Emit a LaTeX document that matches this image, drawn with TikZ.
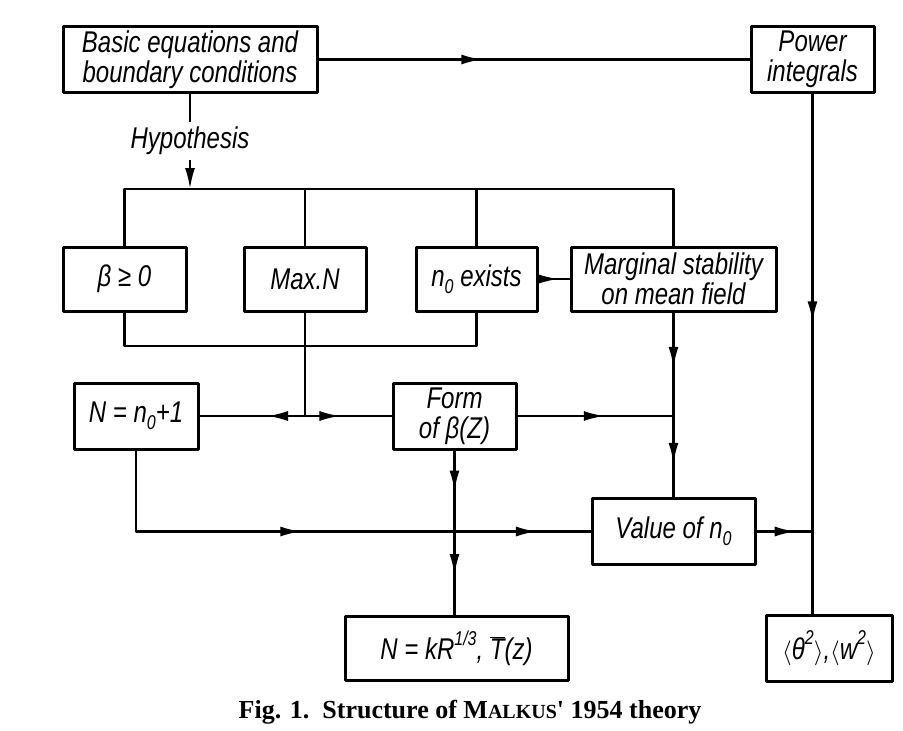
\documentclass[tikz,border=0pt]{standalone}
\usepackage{fontspec}
\usetikzlibrary{arrows.meta,decorations.markings}
\newfontfamily\hand[FakeStretch=0.8]{Liberation Sans}
\newfontfamily\capfont{Liberation Serif}
\newcommand\lo[1]{\raisebox{-0.45ex}{\fontsize{20}{20}\selectfont #1}}
\newcommand\hi[1]{\raisebox{0.9ex}{\fontsize{20}{20}\selectfont #1}}
\tikzset{
  box/.style={draw,line width=3pt,inner sep=0pt,minimum height=66,align=center,
    font=\hand\itshape\fontsize{30}{30}\selectfont},
  lbl/.style={font=\hand\itshape\fontsize{30}{30}\selectfont},
  headat/.style={postaction={decorate,decoration={markings,
    mark=at position #1 with {\arrow{Latex[length=21pt,width=10pt]}}}}}
}
\begin{document}
\begin{tikzpicture}[x=1pt,y=-1pt,line width=2.4pt,line join=round]
\useasboundingbox (0,0) rectangle (903,731);
\path
(190,59.5) node[box,minimum width=254] (basic) {Basic equations and\\boundary conditions}
(812.5,59) node[box,minimum width=123] (power) {Power\\integrals}
(190,141) node[lbl] (hyp) {Hypothesis}
(124.5,279) node[box,minimum width=123,minimum height=64] (beta) {β ≥ 0}
(305,279) node[box,minimum width=122,minimum height=64] (maxn) {Max.N}
(476.5,279) node[box,minimum width=121,minimum height=64] (nzero) {n\lo{0} exists}
(673.5,279) node[box,minimum width=205,minimum height=64] (marg) {Marginal stability\\on mean field}
(136,416) node[box,minimum width=124] (nrel) {N = n\lo{0}+1}
(454.5,416) node[box,minimum width=123] (form) {Form\\of β(Z)}
(673.5,531.5) node[box,minimum width=163] (value) {Value of n\lo{0}}
(456.5,648) node[box,minimum width=223,minimum height=64] (law) {N = kR\hi{1/3}, $\overline{\mbox{T}}$(z)}
(829,648) node[box,minimum width=126] (means) {$\langle$θ\hi{2}$\rangle$,$\langle$w\hi{2}$\rangle$}
(470,712) node[font=\capfont\bfseries\fontsize{26}{26}\selectfont] (cap)
  {Fig. 1.\ \ Structure of M{\fontsize{20}{20}\selectfont ALKUS}' 1954 theory}
(0,189) coordinate (top)
(0,346) coordinate (low)
;
% top row
\draw[headat=0.38] (basic.east) -- (basic.east -| power.west);
\draw (basic.south) -- (hyp.north);
\draw[-{Latex[length=21pt,width=10pt]}] (hyp.south) -- (hyp.south |- top);
\draw (beta.north) |- (marg.north |- top) -- (marg.north);
\draw (maxn.north) -- (maxn.north |- top) (nzero.north) -- (nzero.north |- top);
\draw[headat=0.65] (nzero.east) -- (marg.west);
% hypotheses joined
\draw (beta.south) |- (nzero.south |- low) -- (nzero.south);
\draw (maxn.south) -- (maxn.south |- nrel.east) coordinate (split);
\draw[headat=0.36] (split) -- (nrel.east);
\draw[headat=0.41] (split) -- (form.west);
\draw[headat=0.56] (form.east) -- (form.east -| marg.south);
\draw[headat=0.3,headat=0.82] (marg.south) -- (value.north);
% results
\draw[headat=0.46,headat=0.9] (nrel.south) |- (value.west);
\draw[headat=0.25,headat=0.76] (form.south) -- (form.south |- law.north);
\draw[headat=0.7] (value.east) -- (value.east -| power.south);
\draw[headat=0.44] (power.south) -- (power.south |- means.north);
\end{tikzpicture}
\end{document}
